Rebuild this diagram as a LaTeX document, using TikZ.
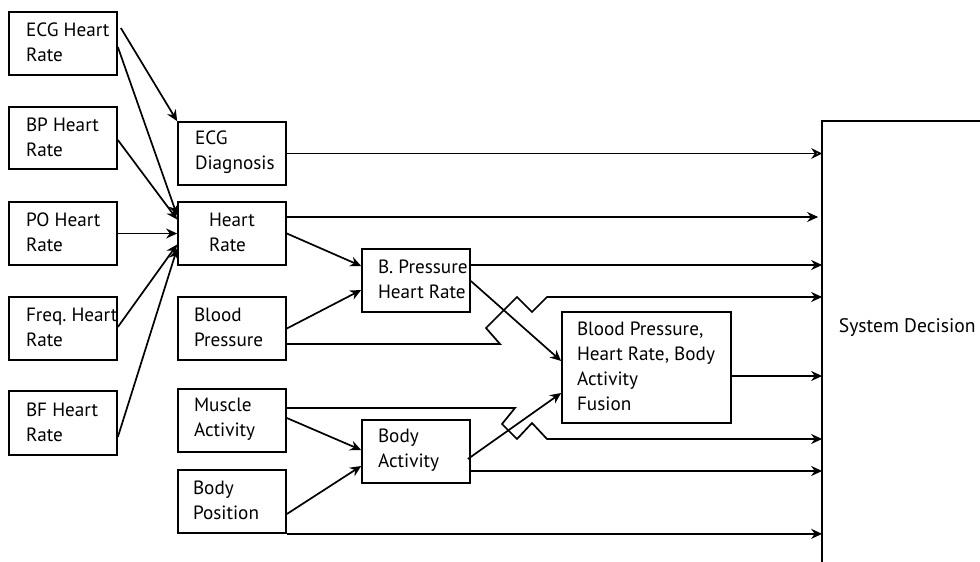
\documentclass[tikz,border=0pt]{standalone}
\usepackage{fontspec}
\setmainfont{PT Sans}
\usetikzlibrary{arrows.meta,calc}

% \blk{name}{x1}{y1}{x2}{y2}{text inset}{text}: framed block with left-aligned text
\newcommand\blk[7]{%
  \node[box, minimum width={(#4-#2)*0.5pt}, minimum height={(#5-#3)*0.5pt}]
    (#1) at ({(#2+#4)/2},{(#3+#5)/2}) {};
  \node[lbl] (#1-t) at ($(#1.west)+(#6,-1)$) {#7};
}

\begin{document}
\begin{tikzpicture}[x=0.5pt,y=-0.5pt,
  line width=0.85pt,
  box/.style={draw, line width=0.85pt, inner sep=0pt},
  lbl/.style={inner sep=0pt, align=left, anchor=west,
    font=\fontsize{9.6pt}{12.5pt}\selectfont},
  flow/.style={-{Stealth[length=5.5pt,width=5pt,inset=1.8pt]}},
  openflow/.style={-{Stealth[open,length=5.5pt,width=5.5pt,inset=1.8pt]}},
]
\useasboundingbox (0,0) rectangle (980,562);

% sensor heart-rate sources
\blk{ecghr}{9}{12}{117}{75}{17}{ECG Heart\\Rate}
\blk{bphr}{9}{107}{117}{169}{17}{BP Heart\\Rate}
\blk{pohr}{9}{202}{117}{265}{17}{PO Heart\\Rate}
\blk{freqhr}{9}{297}{117}{360}{17}{Freq.~Heart\\Rate}
\blk{bfhr}{9}{391}{117}{455}{17}{BF Heart\\Rate}

% first processing stage
\blk{ecgdx}{178}{122}{286}{185}{17}{ECG\\Diagnosis}
\blk{hr}{178}{202}{286}{265}{31}{Heart\\Rate}
\blk{bpr}{178}{297}{286}{360}{16}{Blood\\Pressure}
\blk{mus}{178}{389}{286}{452}{16}{Muscle\\Activity}
\blk{pos}{178}{470}{286}{533}{15}{Body\\Position}

% second and third stages
\blk{bphrf}{362}{249}{470}{312}{16}{B. Pressure\\Heart Rate}
\blk{act}{362}{420}{470}{483}{16}{Body\\Activity}
\blk{fus}{562}{312}{731}{423}{15}{Blood Pressure,\\Heart Rate, Body\\Activity\\Fusion}

% decision stage: open frame on the right
\node[inner sep=0pt, minimum width=78.5pt, minimum height=220pt] (sys) at (901.5,342) {};
\draw (sys.south west) -- (sys.north west) -- (sys.north east);
\node[inner sep=0pt, anchor=base west, font=\fontsize{9.8pt}{12.5pt}\selectfont]
  (sys-t) at (838,332) {System Decision};

% heart-rate sources into ECG diagnosis and heart-rate fusion
\draw[flow] ($(ecghr.east)+(3,-15.5)$) -- (ecgdx.north west);
\draw[flow] ($(ecghr.east)+(0,3.5)$) -- ($(hr.west)+(0,-18)$);
\draw[flow] ($(bphr.east)+(0,2)$) -- ($(hr.west)+(0,-14)$);
\draw[flow] (pohr.east) -- (hr.west);
\draw[flow] ($(freqhr.east)+(0,-1.5)$) -- ($(hr.west)+(0,11)$);
\draw[flow] ($(bfhr.east)+(0,14)$) -- ($(hr.west)+(0,15)$);

% direct outputs to the decision stage
\draw[openflow] (ecgdx.east) -- (ecgdx.east -| sys.west);
\coordinate (hrout) at ($(hr.east)+(0,-16.5)$);
\draw[flow] (hrout) -- ($(hrout -| sys.west)+(-4,0)$);
\coordinate (bphrout) at ($(bphrf.east)+(0,-15.5)$);
\draw[flow] (bphrout) -- (bphrout -| sys.west);
\coordinate (fusout) at ($(fus.east)+(0,8.5)$);
\draw[flow] (fusout) -- (fusout -| sys.west);
\coordinate (actout) at ($(act.east)+(0,19.5)$);
\draw[flow] (actout) -- (actout -| sys.west);
\draw[flow] (pos.south east) -- (pos.south east -| sys.west);

% blood pressure / heart rate pairing
\draw[flow] (hr.east) -- ($(bphrf.west)+(0,-14.5)$);
\draw[flow] (bpr.east) -- ($(bphrf.west)+(0,9.5)$);

% body activity pairing
\draw[flow] ($(mus.east)+(0,-2.5)$) -- ($(act.west)+(0,-1.5)$);
\draw[flow] ($(pos.east)+(0,12.5)$) -- ($(act.west)+(0,14.5)$);

% inputs to the combined fusion block
\draw[flow] ($(bphrf.east)+(0,0.5)$) -- ($(fus.west)+(0,-6.5)$);
\draw[flow] ($(act.east)+(-3,7.5)$) -- ($(fus.west)+(0,25.5)$);

% bypass lines with jogs across the fusion inputs
\coordinate (bpby) at ($(bpr.east)+(0,15.5)$);
\coordinate (bpjog) at (547,297);
\draw[flow] (bpby) -- (500,344) -- (486,328) -- (517,297) -- (532,312)
  -- (bpjog) -- (bpjog -| sys.west);
\coordinate (musby) at ($(mus.east)+(0,-12.5)$);
\coordinate (musjog) at (547,439);
\draw[flow] (musby) -- (515,408) -- (502,424) -- (517,439) -- (532,423)
  -- (musjog) -- (musjog -| sys.west);
\end{tikzpicture}
\end{document}
